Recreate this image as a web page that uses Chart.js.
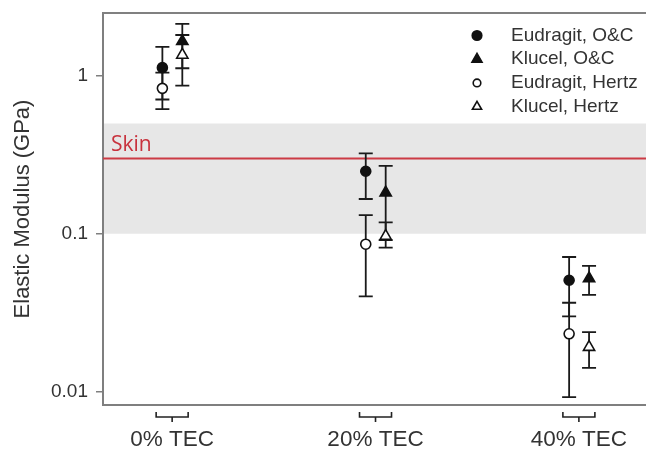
<!DOCTYPE html>
<html>
<head>
<meta charset="utf-8">
<script src="https://cdn.jsdelivr.net/npm/chart.js@4.4.1/dist/chart.umd.min.js"></script>
<style>
  html, body { margin: 0; padding: 0; background: #fff; }
  #wrap { width: 646px; height: 449px; }
</style>
</head>
<body>
<div id="wrap"><canvas id="chart"></canvas></div>
<script>
// groups on the x axis and the log ticks on y
const groups = ['0% TEC', '20% TEC', '40% TEC'];
const yTicks = [0.01, 0.1, 1];

// elastic modulus (GPa) with lower / upper ends of the error bars
const eudragitOC = [1.13, 0.249, 0.0507];
const eudragitOCLow = [0.71, 0.166, 0.0299];
const eudragitOCHigh = [1.53, 0.323, 0.0712];

const klucelOC = [1.66, 0.182, 0.052];
const klucelOCLow = [1.12, 0.091, 0.041];
const klucelOCHigh = [2.14, 0.269, 0.0625];

const eudragitHertz = [0.835, 0.0858, 0.0232];
const eudragitHertzLow = [0.617, 0.040, 0.0092];
const eudragitHertzHigh = [1.05, 0.131, 0.0365];

const klucelHertz = [1.36, 0.0965, 0.0191];
const klucelHertzLow = [0.868, 0.0817, 0.0141];
const klucelHertzHigh = [1.82, 0.118, 0.0238];

// reference range for skin
const skinBand = [0.1, 0.5];
const skinLine = 0.3;

const font = 'Liberation Sans, Arial, sans-serif';

function series(label, vals, low, high, off, style, filled) {
  return {
    label: label,
    data: vals.map((v, i) => ({ x: i + off, y: v, lo: low[i], hi: high[i] })),
    pointStyle: style,
    pointRadius: style === 'triangle' ? 6.5 : 5,
    pointHoverRadius: style === 'triangle' ? 6.5 : 5,
    pointBackgroundColor: filled ? '#111' : '#fff',
    pointBorderColor: '#111',
    pointBorderWidth: 1.6,
    showLine: false
  };
}

const datasets = [
  series('Eudragit, Hertz', eudragitHertz, eudragitHertzLow, eudragitHertzHigh, -0.048, 'circle', false),
  series('Klucel, Hertz', klucelHertz, klucelHertzLow, klucelHertzHigh, 0.05, 'triangle', false),
  series('Eudragit, O&C', eudragitOC, eudragitOCLow, eudragitOCHigh, -0.048, 'circle', true),
  series('Klucel, O&C', klucelOC, klucelOCLow, klucelOCHigh, 0.05, 'triangle', true)
];

function marker(ctx, style, filled, cx, cy, r) {
  ctx.beginPath();
  if (style === 'circle') {
    ctx.arc(cx, cy, r, 0, Math.PI * 2);
  } else {
    for (let k = 0; k < 3; k++) {
      const a = -Math.PI / 2 + k * 2 * Math.PI / 3;
      const px = cx + Math.cos(a) * r, py = cy + Math.sin(a) * r;
      k ? ctx.lineTo(px, py) : ctx.moveTo(px, py);
    }
    ctx.closePath();
  }
  ctx.fillStyle = filled ? '#111' : '#fff';
  ctx.fill();
  ctx.lineWidth = 1.6;
  ctx.strokeStyle = '#111';
  ctx.stroke();
}

const decor = {
  id: 'decor',
  beforeDraw(chart) {
    const { ctx, chartArea: a, scales: { y } } = chart;
    const top = y.getPixelForValue(skinBand[1]);
    const bot = y.getPixelForValue(skinBand[0]);
    ctx.save();
    ctx.fillStyle = '#e7e7e7';
    ctx.fillRect(a.left, top, a.right - a.left, bot - top);
    ctx.restore();
  },
  beforeDatasetsDraw(chart) {
    const { ctx, chartArea: a, scales: { x, y } } = chart;
    ctx.save();
    // skin line and label
    const sy = y.getPixelForValue(skinLine);
    ctx.strokeStyle = '#cc3b45';
    ctx.lineWidth = 2;
    ctx.beginPath();
    ctx.moveTo(a.left, sy);
    ctx.lineTo(a.right, sy);
    ctx.stroke();
    ctx.fillStyle = '#c8323d';
    ctx.font = '21px "Open Sans", sans-serif';
    ctx.textBaseline = 'alphabetic';
    ctx.fillText('Skin', a.left + 8, sy - 7);

    // error bars
    ctx.strokeStyle = '#1a1a1a';
    ctx.lineWidth = 1.8;
    chart.data.datasets.forEach(ds => {
      ds.data.forEach(p => {
        const px = x.getPixelForValue(p.x);
        const y1 = y.getPixelForValue(p.hi);
        const y2 = y.getPixelForValue(p.lo);
        ctx.beginPath();
        ctx.moveTo(px, y1); ctx.lineTo(px, y2);
        ctx.moveTo(px - 7, y1); ctx.lineTo(px + 7, y1);
        ctx.moveTo(px - 7, y2); ctx.lineTo(px + 7, y2);
        ctx.stroke();
      });
    });
    ctx.restore();
  },
  afterDraw(chart) {
    const { ctx, chartArea: a, scales: { x } } = chart;
    ctx.save();
    // frame line along the top
    ctx.strokeStyle = '#808080';
    ctx.lineWidth = 2;
    ctx.beginPath();
    ctx.moveTo(a.left, a.top);
    ctx.lineTo(a.right, a.top);
    ctx.stroke();

    // braces under each group
    ctx.strokeStyle = '#222';
    ctx.lineWidth = 1.6;
    groups.forEach((g, i) => {
      const cx = x.getPixelForValue(i);
      const b = a.bottom;
      ctx.beginPath();
      ctx.moveTo(cx - 16, b + 7);
      ctx.lineTo(cx - 16, b + 12);
      ctx.lineTo(cx + 16, b + 12);
      ctx.lineTo(cx + 16, b + 7);
      ctx.moveTo(cx, b + 12);
      ctx.lineTo(cx, b + 17);
      ctx.stroke();
    });

    // legend
    const rows = [
      ['Eudragit, O&C', 'circle', true, 4.8],
      ['Klucel, O&C', 'triangle', true, 5.8],
      ['Eudragit, Hertz', 'circle', false, 3.8],
      ['Klucel, Hertz', 'triangle', false, 5.3]
    ];
    ctx.font = '19px ' + font;
    ctx.textBaseline = 'middle';
    rows.forEach((r, k) => {
      const ry = 35.5 + k * 23.7;
      marker(ctx, r[1], r[2], 477, ry, r[3]);
      ctx.fillStyle = '#333';
      ctx.fillText(r[0], 511, ry);
    });
    ctx.restore();
  }
};

new Chart(document.getElementById('chart'), {
  type: 'scatter',
  data: { datasets: datasets },
  options: {
    responsive: true,
    maintainAspectRatio: false,
    animation: false,
    devicePixelRatio: 1,
    layout: { autoPadding: false, padding: { top: 13, right: 0, left: 0, bottom: 0 } },
    plugins: {
      legend: { display: false },
      tooltip: { enabled: false }
    },
    scales: {
      x: {
        type: 'linear',
        min: -0.34,
        max: 2.33,
        afterBuildTicks: s => { s.ticks = groups.map((g, i) => ({ value: i })); },
        afterFit: s => {
          s.height = 44;
          s.paddingLeft = 0;
          s.paddingRight = 0;
        },
        ticks: {
          callback: v => groups[v],
          font: { size: 22.5, family: font },
          color: '#333',
          padding: 21,
          maxRotation: 0,
          autoSkip: false
        },
        grid: { display: false, drawTicks: false },
        border: { display: true, color: '#7f7f7f', width: 2 }
      },
      y: {
        type: 'logarithmic',
        min: 0.0082,
        max: 2.51,
        afterBuildTicks: s => { s.ticks = yTicks.map(v => ({ value: v })); },
        afterFit: s => {
          s.width = 103;
          s.paddingTop = 0;
          s.paddingBottom = 0;
        },
        ticks: {
          callback: v => String(v),
          font: { size: 19, family: font },
          color: '#333',
          padding: 8
        },
        grid: { drawOnChartArea: false, tickLength: 7, color: '#7f7f7f', lineWidth: 1.5 },
        border: { display: true, color: '#7f7f7f', width: 2 },
        title: {
          display: true,
          text: 'Elastic Modulus (GPa)',
          font: { size: 22, family: font },
          color: '#333',
          padding: { top: 10, bottom: 0 }
        }
      }
    }
  },
  plugins: [decor]
});
</script>
</body>
</html>
